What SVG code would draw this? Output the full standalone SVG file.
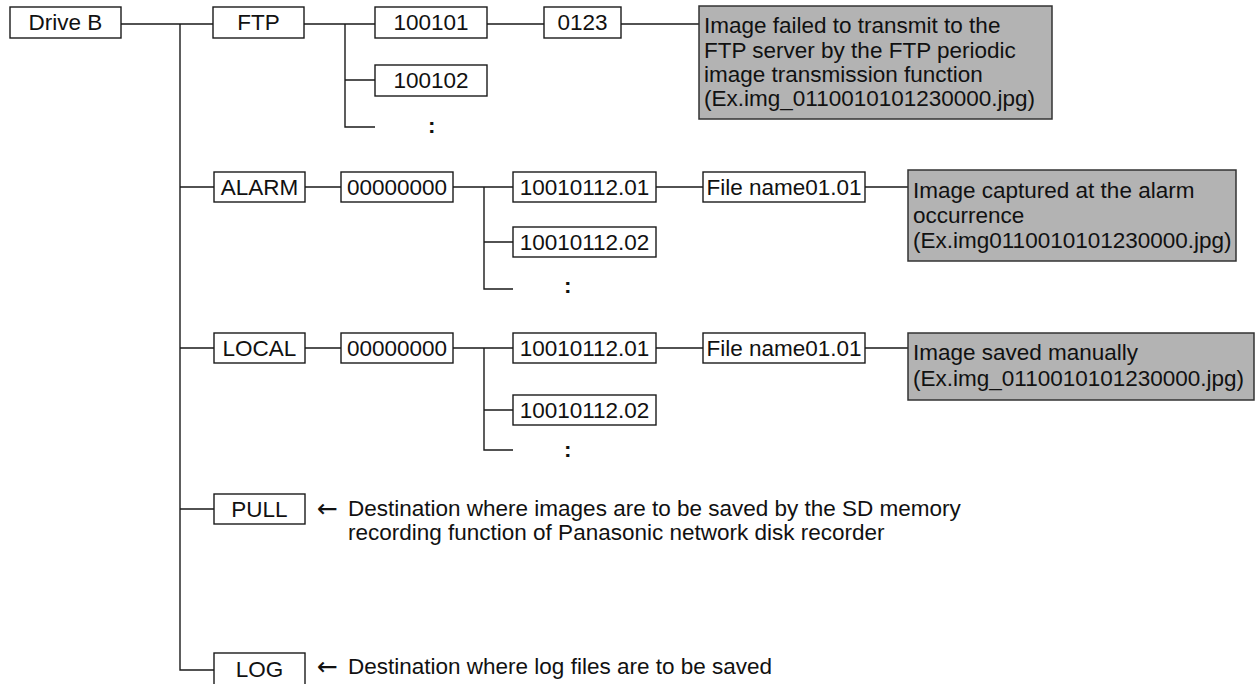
<svg xmlns="http://www.w3.org/2000/svg" width="1258" height="684" viewBox="0 0 1258 684">
<style>
.b{fill:#fff;stroke:#1a1a1a;stroke-width:1.4}
.g{fill:#b3b3b3;stroke:#333;stroke-width:1.5}
.t{font-family:"Liberation Sans",Arial,Helvetica,sans-serif;font-size:22.5px;fill:#111}
.c{text-anchor:middle}
.k{font-weight:bold}
.ar{font-family:"DejaVu Sans",sans-serif;font-size:25px}
.ln{fill:none;stroke:#1a1a1a;stroke-width:1.4}
</style>
<rect width="1258" height="684" fill="#fff"/>
<g id="connectors" class="ln">
<path d="M121 24H213M180 24V670H214M180 187H214M180 348H214M180 509H214"/>
<path d="M304 24H375M345 24V127H375M345 80H375M487 24H544M621 24H699"/>
<path d="M305 187H341M453 187H513M484 187V289H513M484 242H513M656 187H703M865 187H908"/>
<path d="M305 348H341M453 348H513M484 348V450H513M484 410H513M656 348H703M865 348H908"/>
</g>
<g id="driveb"><rect class="b" x="10" y="7" width="111" height="31"/><text class="t c" x="65.5" y="30">Drive B</text></g>
<g id="ftp"><rect class="b" x="213" y="7" width="91" height="31"/><text class="t c" x="258.5" y="30">FTP</text></g>
<g id="ftp-100101"><rect class="b" x="375" y="7" width="112" height="31"/><text class="t c" x="431" y="30">100101</text></g>
<g id="ftp-100102"><rect class="b" x="375" y="65" width="112" height="31"/><text class="t c" x="431" y="88">100102</text></g>
<g id="ftp-more"><text class="t k" x="428" y="133">:</text></g>
<g id="ftp-0123"><rect class="b" x="544" y="7" width="77" height="31"/><text class="t c" x="582.5" y="30">0123</text></g>
<g id="ftp-note"><rect class="g" x="699" y="6" width="353" height="113"/><text class="t"><tspan x="704" y="33">Image failed to transmit to the</tspan><tspan x="704" y="57.5">FTP server by the FTP periodic</tspan><tspan x="704" y="82">image transmission function</tspan><tspan x="704" y="106">(Ex.img_0110010101230000.jpg)</tspan></text></g>

<g id="alarm"><rect class="b" x="214" y="172" width="91" height="30"/><text class="t c" x="259.5" y="195">ALARM</text></g>
<g id="alarm-00000000"><rect class="b" x="341" y="172" width="112" height="30"/><text class="t c" x="397" y="195">00000000</text></g>
<g id="alarm-01"><rect class="b" x="513" y="172" width="143" height="30"/><text class="t c" x="584.5" y="195">10010112.01</text></g>
<g id="alarm-02"><rect class="b" x="513" y="227" width="143" height="30"/><text class="t c" x="584.5" y="250">10010112.02</text></g>
<g id="alarm-more"><text class="t k" x="564" y="293">:</text></g>
<g id="alarm-file"><rect class="b" x="703" y="172" width="162" height="30"/><text class="t c" x="784" y="195">File name01.01</text></g>
<g id="alarm-note"><rect class="g" x="908" y="170" width="328" height="91"/><text class="t"><tspan x="913" y="198">Image captured at the alarm</tspan><tspan x="913" y="223">occurrence</tspan><tspan x="913" y="248">(Ex.img0110010101230000.jpg)</tspan></text></g>

<g id="local"><rect class="b" x="214" y="333" width="91" height="30"/><text class="t c" x="259.5" y="356">LOCAL</text></g>
<g id="local-00000000"><rect class="b" x="341" y="333" width="112" height="30"/><text class="t c" x="397" y="356">00000000</text></g>
<g id="local-01"><rect class="b" x="513" y="333" width="143" height="30"/><text class="t c" x="584.5" y="356">10010112.01</text></g>
<g id="local-02"><rect class="b" x="513" y="395" width="143" height="30"/><text class="t c" x="584.5" y="418">10010112.02</text></g>
<g id="local-more"><text class="t k" x="564" y="457">:</text></g>
<g id="local-file"><rect class="b" x="703" y="333" width="162" height="30"/><text class="t c" x="784" y="356">File name01.01</text></g>
<g id="local-note"><rect class="g" x="908" y="333" width="346" height="67"/><text class="t"><tspan x="913" y="360">Image saved manually</tspan><tspan x="913" y="386">(Ex.img_0110010101230000.jpg)</tspan></text></g>

<g id="pull"><rect class="b" x="214" y="494" width="91" height="30"/><text class="t c" x="259.5" y="517">PULL</text></g>
<g id="pull-note"><text class="t"><tspan class="ar" x="317" y="517">←</tspan><tspan x="348" y="516">Destination where images are to be saved by the SD memory</tspan><tspan x="348" y="540">recording function of Panasonic network disk recorder</tspan></text></g>

<g id="log"><rect class="b" x="214" y="653" width="91" height="40"/><text class="t c" x="259.5" y="677">LOG</text></g>
<g id="log-note"><text class="t"><tspan class="ar" x="317" y="675">←</tspan><tspan x="348" y="674">Destination where log files are to be saved</tspan></text></g>
</svg>
